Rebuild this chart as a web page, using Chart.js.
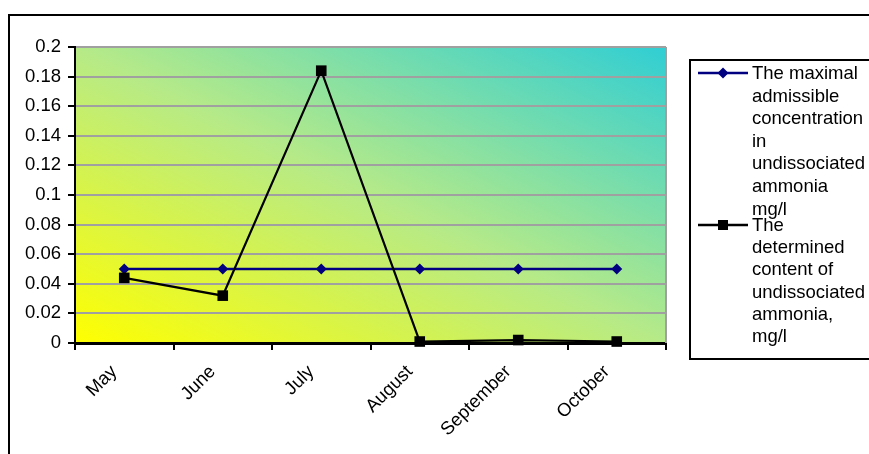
<!DOCTYPE html>
<html>
<head>
<meta charset="utf-8">
<script src="https://cdn.jsdelivr.net/npm/chart.js@4/dist/chart.umd.min.js"></script>
<style>
  html, body { margin: 0; padding: 0; background: #ffffff; }
  #wrap { width: 869px; height: 454px; position: relative; }
</style>
</head>
<body>
<div id="wrap"><canvas id="chart" width="869" height="454"></canvas></div>
<script>
// Months of sampling
const months = ['May', 'June', 'July', 'August', 'September', 'October'];
// Maximal admissible concentration (mg/l)
const maxAdmissible = [0.05, 0.05, 0.05, 0.05, 0.05, 0.05];
// Determined content of undissociated ammonia (mg/l)
const determined = [0.044, 0.032, 0.184, 0.001, 0.002, 0.001];
// Y axis range
const yMin = 0;
const yMax = 0.2;
const yStep = 0.02;
// Legend texts, one entry per line
const limitLabelLines = ['The maximal', 'admissible', 'concentration', 'in', 'undissociated', 'ammonia', 'mg/l'];
const measuredLabelLines = ['The', 'determined', 'content of', 'undissociated', 'ammonia,', 'mg/l'];

const FONT = '"Liberation Sans", Arial, sans-serif';
const FONT_SIZE = 18.5;
const NAVY = '#000080';

// Plot background gradient, outer frame, plot edges and the legend box
const framePlugin = {
  id: 'frame',
  beforeDraw(chart) {
    const { ctx, chartArea: a } = chart;
    ctx.save();
    // diagonal gradient: yellow bottom-left to turquoise top-right
    ctx.translate(a.left, a.bottom);
    ctx.scale(a.right - a.left, a.top - a.bottom);
    const g = ctx.createLinearGradient(0, 0, 1, 1);
    g.addColorStop(0, 'rgb(255,255,0)');
    g.addColorStop(0.5, 'rgb(182,234,136)');
    g.addColorStop(1, 'rgb(48,206,212)');
    ctx.fillStyle = g;
    ctx.fillRect(0, 0, 1, 1);
    ctx.restore();

    ctx.save();
    ctx.strokeStyle = '#000';
    ctx.lineWidth = 2;
    ctx.strokeRect(9, 15, 900, 500);
    ctx.restore();

    // slanted month labels sit a little left of and below their category centre
    const items = chart.scales.x.getLabelItems();
    if (!items._moved) {
      items.forEach(it => {
        it.options.translation[0] -= 10;
        it.options.translation[1] += 5;
      });
      items._moved = true;
    }
  },
  beforeDatasetsDraw(chart) {
    const { ctx, chartArea: a } = chart;
    ctx.save();
    ctx.strokeStyle = '#a0a0a0';
    ctx.lineWidth = 2;
    ctx.beginPath();
    ctx.moveTo(a.right, a.top);
    ctx.lineTo(a.right, a.bottom);
    ctx.stroke();
    ctx.restore();
  },
  afterDraw(chart) {
    const { ctx } = chart;
    ctx.save();
    ctx.strokeStyle = '#000';
    ctx.lineWidth = 2;
    ctx.strokeRect(690, 60, 300, 299);

    const items = [
      { lines: limitLabelLines, color: NAVY, marker: 'diamond', y0: 73, step: 22.6 },
      { lines: measuredLabelLines, color: '#000', marker: 'square', y0: 225, step: 22.2 }
    ];
    ctx.font = FONT_SIZE + 'px ' + FONT;
    ctx.textBaseline = 'middle';
    ctx.textAlign = 'left';
    items.forEach(it => {
      ctx.strokeStyle = it.color;
      ctx.fillStyle = it.color;
      ctx.lineWidth = 2.5;
      ctx.beginPath();
      ctx.moveTo(698, it.y0);
      ctx.lineTo(748, it.y0);
      ctx.stroke();
      ctx.beginPath();
      if (it.marker === 'diamond') {
        ctx.moveTo(723, it.y0 - 5.5);
        ctx.lineTo(728.5, it.y0);
        ctx.lineTo(723, it.y0 + 5.5);
        ctx.lineTo(717.5, it.y0);
        ctx.closePath();
      } else {
        ctx.rect(718, it.y0 - 5, 10, 10);
      }
      ctx.fill();
      ctx.fillStyle = '#000';
      it.lines.forEach((t, i) => ctx.fillText(t, 752, it.y0 + 1 + i * it.step));
    });
    ctx.restore();
  }
};

new Chart(document.getElementById('chart'), {
  type: 'line',
  data: {
    labels: months,
    datasets: [
      {
        label: limitLabelLines.join(' '),
        data: maxAdmissible,
        borderColor: NAVY,
        backgroundColor: NAVY,
        borderWidth: 2.5,
        pointStyle: 'rectRot',
        pointRadius: 5.5,
        pointBorderWidth: 0,
        fill: false,
        tension: 0,
        clip: false,
        order: 1
      },
      {
        label: measuredLabelLines.join(' '),
        data: determined,
        borderColor: '#000',
        backgroundColor: '#000',
        borderWidth: 2.2,
        pointStyle: 'rect',
        pointRadius: 7.5,
        pointBorderWidth: 0,
        fill: false,
        tension: 0,
        clip: false,
        order: 0
      }
    ]
  },
  options: {
    responsive: false,
    animation: false,
    devicePixelRatio: 1,
    layout: { padding: { left: 0, top: 47, right: 203, bottom: 0 } },
    plugins: {
      legend: { display: false },
      tooltip: { enabled: false }
    },
    scales: {
      x: {
        type: 'category',
        offset: true,
        grid: {
          offset: true,
          drawOnChartArea: false,
          drawTicks: true,
          tickLength: 7,
          tickColor: '#000',
          tickWidth: 2,
          lineWidth: 2
        },
        border: { color: '#000', width: 3 },
        ticks: {
          color: '#000',
          font: { family: FONT, size: FONT_SIZE },
          minRotation: 45,
          maxRotation: 45,
          autoSkip: false,
          padding: 6
        },
        afterFit(s) { s.height = 111; }
      },
      y: {
        min: yMin,
        max: yMax,
        grid: {
          color: '#a0a0a0',
          lineWidth: 2,
          tickColor: '#000',
          tickLength: 7,
          tickWidth: 2
        },
        border: { color: '#000', width: 2 },
        ticks: {
          stepSize: yStep,
          color: '#000',
          padding: 7,
          font: { family: FONT, size: FONT_SIZE },
          callback: v => String(Math.round(v * 100) / 100)
        },
        afterFit(s) { s.width = 75; }
      }
    }
  },
  plugins: [framePlugin]
});
</script>
</body>
</html>
